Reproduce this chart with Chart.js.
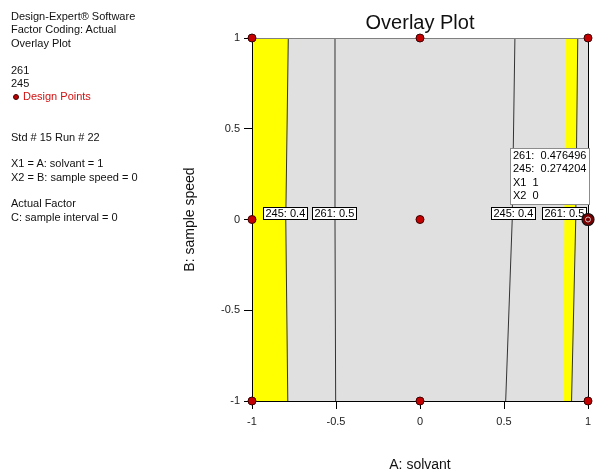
<!DOCTYPE html>
<html>
<head>
<meta charset="utf-8">
<title>Overlay Plot</title>
<script src="https://cdn.jsdelivr.net/npm/chart.js@4.4.1/dist/chart.umd.min.js"></script>
<style>
  html, body { margin: 0; padding: 0; background: #fff; }
  #wrap { position: relative; width: 608px; height: 475px; }
  #grafico { position: absolute; left: 0; top: 0; }
  #info { position: absolute; left: 11px; top: 10px; font: 11px "Liberation Sans", Arial, sans-serif; color: #111; }
  #info div { height: 13.4px; line-height: 13.4px; white-space: pre; }
  .dp { color: #d01010; }
  .dot { display: inline-block; width: 4px; height: 4px; border-radius: 50%; background: #c00000; border: 1px solid #400000; margin: 0 4px 1px 2px; vertical-align: middle; }
</style>
</head>
<body>
<div id="wrap">
  <canvas id="grafico" width="608" height="475"></canvas>
  <div id="info">
    <div>Design-Expert® Software</div>
    <div>Factor Coding: Actual</div>
    <div>Overlay Plot</div>
    <div> </div>
    <div>261</div>
    <div>245</div>
    <div class="dp"><span class="dot"></span>Design Points</div>
    <div> </div>
    <div> </div>
    <div>Std # 15 Run # 22</div>
    <div> </div>
    <div>X1 = A: solvant = 1</div>
    <div>X2 = B: sample speed = 0</div>
    <div> </div>
    <div>Actual Factor</div>
    <div>C: sample interval = 0</div>
  </div>
</div>
<script>
// ticks on both axes
const tickValues = [-1, -0.5, 0, 0.5, 1];
const tickLabels = ['-1', '-0.5', '0', '0.5', '1'];

// contour lines, x read at B = -1, 0, 1
const contourY = [-1, 0, 1];
const c245Left = [-0.787, -0.799, -0.784];
const c261Left = [-0.502, -0.506, -0.506];
const c245Right = [0.510, 0.549, 0.565];
const c261Right = [0.902, 0.927, 0.939];
// left edge of the right yellow strip
const yellowRightStart = [0.853, 0.859, 0.867];

// design points
const designX = [-1, 0, 1, -1, 0, 1, -1, 0, 1];
const designY = [1, 1, 1, 0, 0, 0, -1, -1, -1];
const selectedX = 1;
const selectedY = 0;

// contour labels
const labelTexts = ['245: 0.4', '261: 0.5', '245: 0.4', '261: 0.5'];
const labelX = [-0.804, -0.509, 0.551, 0.857];
const labelY = [0, 0, 0, 0];

// readout at the selected point
const readoutNames = ['261:', '245:', 'X1', 'X2'];
const readoutValues = ['0.476496', '0.274204', '1', '0'];

const toPoints = (xs, ys) => xs.map((x, i) => ({ x: x, y: ys[i] }));

const leftPoly = [{ x: -1, y: -1 }, ...toPoints(c245Left, contourY), { x: -1, y: 1 }];
const rightPoly = [...toPoints(yellowRightStart, contourY), ...toPoints(c261Right, contourY).reverse()];

const FONT = '"Liberation Sans", Arial, sans-serif';
Chart.defaults.font.family = FONT;

const contour = (xs) => ({
  data: toPoints(xs, contourY),
  borderColor: '#333',
  borderWidth: 1,
  pointRadius: 0,
  fill: false
});

const polygon = (pts) => ({
  data: pts,
  borderColor: 'transparent',
  borderWidth: 0,
  backgroundColor: '#ffff00',
  pointRadius: 0,
  fill: 'shape'
});

const tickText = (v) => {
  const i = tickValues.indexOf(v);
  return i >= 0 ? tickLabels[i] : String(v);
};

const plotBackground = {
  id: 'plotBackground',
  beforeDatasetsDraw(chart) {
    const { ctx, chartArea: a } = chart;
    ctx.save();
    ctx.fillStyle = '#e0e0e0';
    ctx.fillRect(a.left, a.top, a.right - a.left, a.bottom - a.top);
    ctx.restore();
  }
};

// frame, contour labels and readout go under the design points
const overlays = {
  id: 'overlays',
  beforeDatasetDraw(chart, args) {
    if (args.index !== 2) return;
    const { ctx, chartArea: a } = chart;
    const xs = chart.scales.x, ys = chart.scales.y;
    ctx.save();
    ctx.lineWidth = 1;
    ctx.strokeStyle = '#808080';
    ctx.beginPath();
    ctx.moveTo(a.left, a.top + 0.5);
    ctx.lineTo(a.right, a.top + 0.5);
    ctx.stroke();
    ctx.strokeStyle = '#000';
    ctx.beginPath();
    ctx.moveTo(a.left + 0.5, a.top);
    ctx.lineTo(a.left + 0.5, a.bottom + 0.5);
    ctx.lineTo(a.right + 0.5, a.bottom + 0.5);
    ctx.lineTo(a.right + 0.5, a.top);
    ctx.stroke();

    ctx.font = '11px ' + FONT;
    ctx.textBaseline = 'middle';
    labelTexts.forEach((t, i) => {
      const cx = xs.getPixelForValue(labelX[i]);
      const bottom = ys.getPixelForValue(labelY[i]);
      const w = Math.round(ctx.measureText(t).width + 4);
      const h = 12;
      const left = Math.round(cx - w / 2) + 0.5;
      const top = Math.round(bottom - h) - 0.5;
      ctx.fillStyle = '#fff';
      ctx.fillRect(left, top, w, h);
      ctx.strokeStyle = '#000';
      ctx.strokeRect(left, top, w, h);
      ctx.fillStyle = '#000';
      ctx.textAlign = 'left';
      ctx.fillText(t, left + 2, top + h / 2 + 0.5);
    });

    const px = xs.getPixelForValue(selectedX);
    const py = ys.getPixelForValue(selectedY);
    const lines = readoutNames.map((n, i) => n + '  ' + readoutValues[i]);
    const w = Math.round(Math.max(...lines.map(l => ctx.measureText(l).width)) + 6);
    const lh = 13.3;
    const h = Math.round(lines.length * lh + 3);
    const right = Math.round(px) + 1.5;
    const bottom = Math.round(py) - 15.5;
    ctx.fillStyle = '#fff';
    ctx.fillRect(right - w, bottom - h, w, h);
    ctx.strokeStyle = '#8c8c8c';
    ctx.strokeRect(right - w, bottom - h, w, h);
    ctx.fillStyle = '#000';
    lines.forEach((l, i) => {
      ctx.fillText(l, right - w + 2.5, bottom - h + 7.5 + i * lh);
    });
    ctx.restore();
  }
};

new Chart(document.getElementById('grafico'), {
  type: 'line',
  data: {
    datasets: [
      {
        data: [{ x: selectedX, y: selectedY }],
        showLine: false,
        pointRadius: 2.5,
        pointBackgroundColor: '#7a0000',
        pointBorderColor: '#d8bcbc',
        pointBorderWidth: 1,
        clip: false
      },
      {
        data: [{ x: selectedX, y: selectedY }],
        showLine: false,
        pointRadius: 6,
        pointBackgroundColor: '#7a0000',
        pointBorderColor: '#111',
        pointBorderWidth: 1.2,
        clip: false
      },
      {
        data: toPoints(designX, designY),
        showLine: false,
        pointRadius: 4,
        pointBackgroundColor: '#c40000',
        pointBorderColor: '#3c0000',
        pointBorderWidth: 1,
        clip: false
      },
      contour(c245Left),
      contour(c261Left),
      contour(c245Right),
      contour(c261Right),
      polygon(leftPoly),
      polygon(rightPoly)
    ]
  },
  options: {
    responsive: false,
    animation: false,
    events: [],
    layout: { padding: { left: 182, right: 20, top: 0, bottom: 1 } },
    scales: {
      x: {
        type: 'linear',
        min: -1,
        max: 1,
        afterBuildTicks: (s) => { s.ticks = tickValues.map(v => ({ value: v })); },
        afterFit: (s) => { s.height = 73; },
        grid: { drawOnChartArea: false, color: '#000', tickLength: 8 },
        border: { display: false },
        ticks: { color: '#222', font: { size: 11 }, padding: 6, maxRotation: 0, callback: tickText },
        title: { display: true, text: 'A: solvant', color: '#111', font: { size: 14 }, padding: 0 }
      },
      y: {
        type: 'linear',
        min: -1,
        max: 1,
        afterBuildTicks: (s) => { s.ticks = tickValues.map(v => ({ value: v })); },
        afterFit: (s) => { s.width = 70; },
        grid: { drawOnChartArea: false, color: '#000', tickLength: 8 },
        border: { display: false },
        ticks: { color: '#222', font: { size: 11 }, padding: 4, callback: tickText },
        title: { display: true, text: 'B: sample speed', color: '#111', font: { size: 14 }, padding: 0 }
      }
    },
    plugins: {
      legend: { display: false },
      tooltip: { enabled: false },
      title: {
        display: true,
        text: 'Overlay Plot',
        fullSize: false,
        color: '#111',
        font: { size: 20, weight: 'normal' },
        padding: { top: 11, bottom: 3 }
      }
    }
  },
  plugins: [plotBackground, overlays]
});
</script>
</body>
</html>
